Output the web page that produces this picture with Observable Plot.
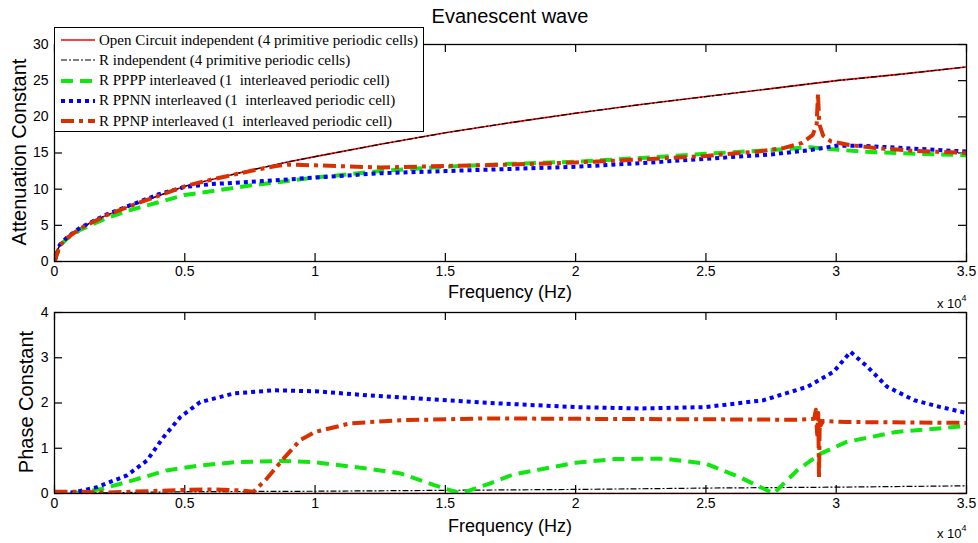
<!DOCTYPE html>
<html><head><meta charset="utf-8">
<script src="https://cdn.jsdelivr.net/npm/d3@7"></script>
<script src="https://cdn.jsdelivr.net/npm/@observablehq/plot@0.6"></script>
<style>
body{margin:0;background:#fff;}
#wrap{position:relative;width:978px;height:543px;overflow:hidden;font-family:"Liberation Sans",Arial,sans-serif;color:#000;background:#fff;}
.abs{position:absolute;}
.title{left:310px;width:400px;top:4px;text-align:center;font-size:20px;line-height:24px;}
.xlab{left:360px;width:300px;text-align:center;font-size:18px;line-height:20px;}
.ylab{font-size:20px;line-height:20px;white-space:nowrap;transform-origin:center center;}
.exp{font-size:13px;line-height:14px;white-space:nowrap;}
.exp sup{font-size:9px;vertical-align:7px;}
#legend{left:54px;top:27px;width:368px;height:103px;border:1px solid #000;background:#fff;font-family:"Liberation Serif","Times New Roman",serif;font-size:15px;}
.lrow{position:absolute;left:0;height:20px;display:flex;align-items:center;white-space:pre;}
.lrow svg{margin-left:6px;margin-right:4px;}
</style>
</head><body><div id="wrap"></div>
<script>
// ---------- data (frequency in units of 1e4 Hz) ----------
const xTicks = [0, 0.5, 1, 1.5, 2, 2.5, 3, 3.5];
const attTicks = [0, 5, 10, 15, 20, 25, 30];
const phaseTicks = [0, 1, 2, 3, 4];

const seriesNames = [
  "Open Circuit independent (4 primitive periodic cells)",
  "R independent (4 primitive periodic cells)",
  "R PPPP interleaved (1  interleaved periodic cell)",
  "R PPNN interleaved (1  interleaved periodic cell)",
  "R PPNP interleaved (1  interleaved periodic cell)"
];
const seriesColors = ["#ff0000", "#000000", "#11e611", "#0000ff", "#d93000"];
const seriesWidths = [1.6, 1.2, 4, 4, 4];
const seriesDash = [null, "6,2,2,2", "12,7", "4,4", "13,5,4,5"];

// Attenuation constant (top)
const ocAttX = [0, 0.005, 0.02, 0.05, 0.1, 0.15, 0.2, 0.25, 0.3, 0.4, 0.5, 0.6, 0.75, 0.9, 1.0, 1.25, 1.5, 1.75, 2.0, 2.25, 2.5, 2.75, 3.0, 3.25, 3.5];
const ocAttY = [0, 1.2, 2.2, 3.3, 4.6, 5.6, 6.4, 7.1, 7.8, 9.1, 10.4, 11.3, 12.6, 13.8, 14.5, 16.2, 17.8, 19.2, 20.5, 21.7, 22.8, 23.9, 25.0, 25.9, 26.9];
const riAttX = [0, 0.005, 0.02, 0.05, 0.1, 0.15, 0.2, 0.25, 0.3, 0.4, 0.5, 0.6, 0.75, 0.9, 1.0, 1.25, 1.5, 1.75, 2.0, 2.25, 2.5, 2.75, 3.0, 3.25, 3.5];
const riAttY = [0, 1.2, 2.2, 3.3, 4.6, 5.6, 6.4, 7.1, 7.8, 9.1, 10.4, 11.3, 12.6, 13.8, 14.5, 16.2, 17.8, 19.2, 20.5, 21.7, 22.8, 23.9, 25.0, 25.9, 26.9];
const ppppAttX = [0, 0.02, 0.05, 0.1, 0.2, 0.3, 0.4, 0.5, 0.75, 1.0, 1.25, 1.5, 1.75, 2.0, 2.25, 2.5, 2.75, 2.9, 2.95, 3.1, 3.3, 3.5];
const ppppAttY = [0, 2.2, 3.2, 4.4, 6.0, 7.2, 8.2, 9.2, 10.5, 11.6, 12.5, 13.1, 13.5, 13.8, 14.3, 14.9, 15.4, 15.8, 15.6, 15.2, 14.9, 14.7];
const ppnnAttX = [0, 0.02, 0.05, 0.1, 0.2, 0.3, 0.4, 0.5, 0.6, 0.75, 1.0, 1.25, 1.5, 1.75, 2.0, 2.25, 2.5, 2.75, 2.9, 3.0, 3.1, 3.3, 3.5];
const ppnnAttY = [0, 2.3, 3.4, 4.7, 6.5, 7.9, 9.3, 10.3, 10.7, 11.0, 11.6, 12.2, 12.5, 12.8, 13.1, 13.6, 14.2, 14.8, 15.4, 16.0, 16.0, 15.6, 15.2];
const ppnpAttX = [0, 0.02, 0.05, 0.1, 0.2, 0.3, 0.4, 0.5, 0.6, 0.75, 0.85, 0.9, 1.0, 1.25, 1.5, 1.75, 2.0, 2.25, 2.5, 2.7, 2.8, 2.87, 2.91, 2.925, 2.93, 2.935, 2.95, 2.98, 3.05, 3.15, 3.3, 3.5];
const ppnpAttY = [0, 2.2, 3.3, 4.6, 6.4, 7.8, 9.1, 10.4, 11.3, 12.5, 13.2, 13.4, 13.3, 13.0, 13.2, 13.4, 13.7, 14.1, 14.6, 15.2, 15.7, 16.4, 17.5, 19.0, 23.2, 19.0, 17.4, 16.6, 16.1, 15.7, 15.3, 15.0];

// Phase constant (bottom)
const ocPhX = [0, 1, 2, 3, 3.5];
const ocPhY = [0, 0, 0, 0, 0];
const riPhX = [0, 0.25, 0.5, 1.0, 1.5, 2.0, 2.5, 3.0, 3.5];
const riPhY = [0, 0.02, 0.04, 0.05, 0.07, 0.09, 0.12, 0.14, 0.17];
const ppppPhX = [0, 0.1, 0.18, 0.3, 0.43, 0.56, 0.69, 0.88, 1.0, 1.2, 1.33, 1.46, 1.56, 1.67, 1.76, 2.0, 2.15, 2.34, 2.5, 2.63, 2.76, 2.85, 2.94, 3.04, 3.23, 3.5];
const ppppPhY = [0, 0.02, 0.1, 0.29, 0.51, 0.62, 0.69, 0.72, 0.69, 0.55, 0.44, 0.18, 0.0, 0.22, 0.42, 0.68, 0.76, 0.77, 0.66, 0.36, 0.0, 0.51, 0.88, 1.14, 1.36, 1.49];
const ppnnPhX = [0, 0.08, 0.163, 0.278, 0.355, 0.419, 0.483, 0.559, 0.687, 0.841, 1.0, 1.2, 1.39, 1.67, 2.0, 2.25, 2.5, 2.72, 2.89, 2.99, 3.055, 3.12, 3.195, 3.3, 3.4, 3.5];
const ppnnPhY = [0, 0.03, 0.14, 0.4, 0.73, 1.25, 1.69, 2.02, 2.21, 2.28, 2.26, 2.17, 2.10, 2.0, 1.91, 1.88, 1.91, 2.06, 2.36, 2.69, 3.13, 2.8, 2.36, 2.06, 1.91, 1.78];
const ppnpPhX = [0, 0.1, 0.2, 0.3, 0.4, 0.5, 0.6, 0.7, 0.764, 0.815, 0.879, 0.943, 1.0, 1.135, 1.33, 1.67, 2.0, 2.5, 2.85, 2.915, 2.922, 2.927, 2.931, 2.934, 2.937, 2.94, 2.95, 3.04, 3.5];
const ppnpPhY = [0.04, 0.04, 0.02, 0.04, 0.06, 0.08, 0.09, 0.07, 0.04, 0.33, 0.77, 1.18, 1.36, 1.55, 1.62, 1.66, 1.65, 1.64, 1.63, 1.65, 1.85, 1.3, 1.78, 0.33, 1.7, 1.5, 1.6, 1.58, 1.56];

const attSeries = [[ocAttX, ocAttY], [riAttX, riAttY], [ppppAttX, ppppAttY], [ppnnAttX, ppnnAttY], [ppnpAttX, ppnpAttY]];
const phSeries = [[ocPhX, ocPhY], [riPhX, riPhY], [ppppPhX, ppppPhY], [ppnnPhX, ppnnPhY], [ppnpPhX, ppnpPhY]];

// ---------- drawing ----------
const wrap = document.getElementById("wrap");
const TICK = 8;

function panel(series, yDomain, yTicks, height, mt, mb) {
  const innerH = height - mt - mb;
  const innerW = 978 - 54 - 12;
  const tk = {stroke: "#000", strokeWidth: 1.2};
  const marks = [
    // inward tick marks (MATLAB style) on all four sides, beneath the data
    Plot.tickX(xTicks, {x: d => d, ...tk, insetTop: innerH - TICK}),
    Plot.tickX(xTicks, {x: d => d, ...tk, insetBottom: innerH - TICK}),
    Plot.tickY(yTicks, {y: d => d, ...tk, insetRight: innerW - TICK}),
    Plot.tickY(yTicks, {y: d => d, ...tk, insetLeft: innerW - TICK})
  ];
  series.forEach(([xs, ys], i) => {
    const data = xs.map((x, j) => ({x, y: ys[j]}));
    marks.push(Plot.line(data, {
      x: "x", y: "y", stroke: seriesColors[i], strokeWidth: seriesWidths[i],
      strokeDasharray: seriesDash[i], strokeLinecap: "butt", clip: true
    }));
  });
  const fs = {fontSize: 14};
  marks.push(
    Plot.frame({stroke: "#000", strokeWidth: 1.3}),
    Plot.axisX({anchor: "bottom", ticks: xTicks, tickSize: 0, tickPadding: 5, tickFormat: d => String(d), label: null, ...fs}),
    Plot.axisY({anchor: "left", ticks: yTicks, tickSize: 0, tickPadding: 6, tickFormat: d => String(d), label: null, ...fs})
  );
  return Plot.plot({
    width: 978, height, marginLeft: 54, marginRight: 12, marginTop: mt, marginBottom: mb,
    style: {fontFamily: "'Liberation Sans', Arial, sans-serif", fontSize: "14px", color: "#000", background: "transparent"},
    x: {domain: [0, 3.5]},
    y: {domain: yDomain},
    marks
  });
}

const topPanel = panel(attSeries, [0, 30], attTicks, 300, 44, 39);
topPanel.style.position = "absolute"; topPanel.style.left = "0px"; topPanel.style.top = "0px";
wrap.appendChild(topPanel);

const botPanel = panel(phSeries, [0, 4], phaseTicks, 243, 12, 50);
botPanel.style.position = "absolute"; botPanel.style.left = "0px"; botPanel.style.top = "300px";
wrap.appendChild(botPanel);

function addDiv(cls, html, style) {
  const d = document.createElement("div");
  d.className = "abs " + cls;
  d.innerHTML = html;
  Object.assign(d.style, style || {});
  wrap.appendChild(d);
  return d;
}

addDiv("title", "Evanescent wave");
addDiv("xlab", "Frequency (Hz)", {top: "282px"});
addDiv("xlab", "Frequency (Hz)", {top: "516px"});
addDiv("exp", "x 10<sup>4</sup>", {left: "937px", top: "291px"});
addDiv("exp", "x 10<sup>4</sup>", {left: "937px", top: "521px"});
addDiv("ylab", "Attenuation Constant", {left: "-81px", width: "200px", top: "142px", textAlign: "center", transform: "rotate(-90deg)"});
addDiv("ylab", "Phase Constant", {left: "-74px", width: "200px", top: "392px", textAlign: "center", transform: "rotate(-90deg)"});

const leg = addDiv("", "", {});
leg.id = "legend";
seriesNames.forEach((name, i) => {
  const row = document.createElement("div");
  row.className = "lrow";
  row.style.top = (2 + i * 20.3) + "px";
  const dash = seriesDash[i] ? `stroke-dasharray="${seriesDash[i]}"` : "";
  row.innerHTML = `<svg width="34" height="10"><line x1="0" y1="5" x2="34" y2="5" stroke="${seriesColors[i]}" stroke-width="${seriesWidths[i]}" ${dash}/></svg><span>${name}</span>`;
  leg.appendChild(row);
});
</script>
</body></html>
